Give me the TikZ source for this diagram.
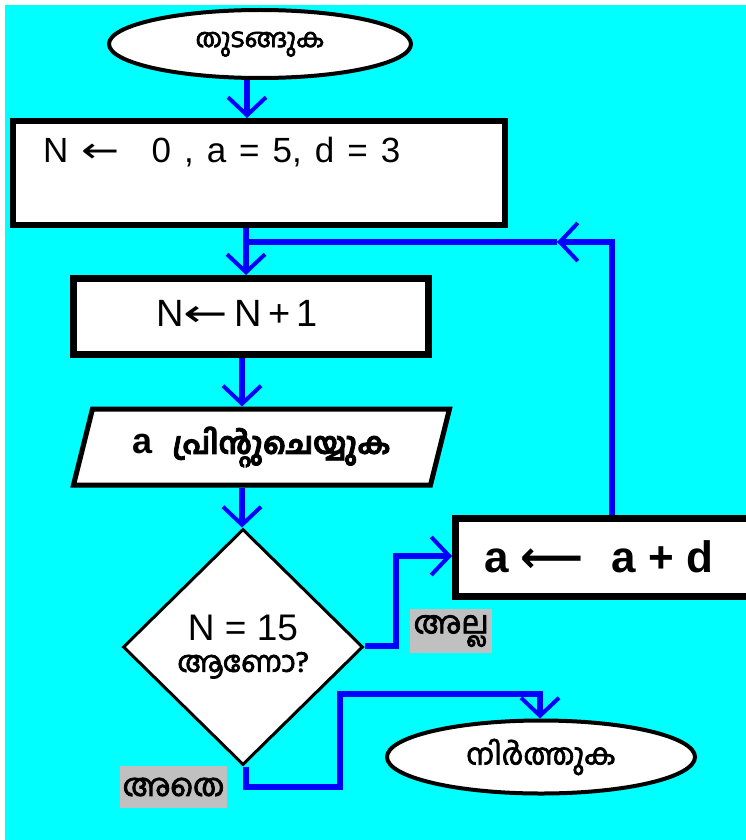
\documentclass[tikz,border=0pt]{standalone}
\usepackage{fontspec}
\usepackage{graphicx}
\setmainfont{Liberation Sans}
\newfontfamily\mlf[Script=Malayalam,FakeBold=2.5]{Hind Kochi}
\newfontfamily\symf{DejaVu Sans}
\newcommand\stretchedarrow[1]{\scalebox{#1}[1]{\symf ←}}
\usetikzlibrary{shapes.geometric,arrows.meta}
\definecolor{bgcyan}{RGB}{0,255,255}
\definecolor{lblgray}{RGB}{192,192,192}
\definecolor{lnblue}{RGB}{0,0,255}
\begin{document}
\begin{tikzpicture}[x=1pt,y=-1pt,
  box/.style={draw=black,fill=white,line width=6pt,rectangle,inner sep=0pt},
  oval/.style={draw=black,fill=white,line width=4pt,ellipse,inner sep=0pt},
  flow/.style={draw=lnblue,line width=6pt},
  tip/.style={-{Straight Barb[length=18pt,width=38pt,line width=4pt]}},
  lbl/.style={fill=lblgray,inner sep=0pt,font=\mlf\fontsize{31}{34}\selectfont}
]
\useasboundingbox (0,0) rectangle (746,840);
\fill[white] (0,0) rectangle (746,840);
\fill[bgcyan] (5,5) rectangle (746,840);

% nodes
\node[oval,minimum width=302pt,minimum height=68pt,font=\mlf\fontsize{26}{30}\selectfont] (start) at (260,44) {തുടങ്ങുക};
\node[box,minimum width=492pt,minimum height=104pt] (box1) at (259,173) {};
\node[anchor=west,inner sep=0pt,font=\fontsize{35}{38}\selectfont] (t1) at (43,152)
  {\spaceskip=13pt N \stretchedarrow{1.3}\hspace{32pt}0 , a = 5, d = 3};
\node[box,line width=7pt,minimum width=355pt,minimum height=76pt] (box2) at (251,316.5) {};
\node[inner sep=0pt,font=\fontsize{38}{40}\selectfont] (t2) at (237,313)
  {N\stretchedarrow{1.4}\,N\,+\,1};
\node[trapezium,trapezium left angle=65,trapezium right angle=115,trapezium stretches body,
  draw=black,fill=white,line width=5pt,inner sep=0pt,minimum width=376pt,minimum height=76pt]
  (para) at (261.5,447) {\fontsize{36}{40}\selectfont\bfseries a\hspace{20pt}{\mlf\fontsize{30}{34}\selectfont പ്രിന്റുചെയ്യുക}};
\node[diamond,draw=black,fill=white,line width=3pt,inner sep=0pt,minimum width=240pt,
  minimum height=236pt,align=center,font=\fontsize{37}{31}\selectfont] (dec) at (243,647)
  {N = 15\\{\mlf\fontsize{29}{31}\selectfont ആണോ?}};
\node[box,line width=7pt,minimum width=299pt,minimum height=78pt] (box3) at (605,557.5) {};
\node[anchor=west,inner sep=0pt,font=\fontsize{44}{48}\selectfont\bfseries] (t3) at (484,557)
  {a {\symf ⟵}\hspace{28pt}a + d};
\node[oval,minimum width=308pt,minimum height=73pt,font=\mlf\fontsize{29}{32}\selectfont] (stop) at (541,757) {നിർത്തുക};
\node[lbl,minimum width=82pt,minimum height=44pt] (no) at (451,631) {അല്ല};
\node[lbl,minimum width=107pt,minimum height=42pt] (yes) at (173.5,787) {അതെ};

% helper coordinates
\coordinate (c1) at (247,0);
\coordinate (c2) at (246,0);
\coordinate (c3) at (242,0);
\coordinate (n1) at (396,646);
\coordinate (n2) at (396,556);
\coordinate (l1) at (612,242);
\coordinate (l2) at (557,242);
\coordinate (l3) at (243,242);
\coordinate (y1) at (246,787);
\coordinate (y2) at (340,787);
\coordinate (y3) at (340,694);
\coordinate (y4) at (540,694);

% connectors
\draw[flow,tip] (start.south -| c1) -- (box1.north -| c1);
\draw[flow,tip] (box1.south -| c2) -- (box2.north -| c2);
\draw[flow,tip] (box2.south -| c3) -- (para.north -| c3);
\draw[flow,tip] (para.south -| c3) -- (dec.north -| c3);
\draw[flow,tip] (dec.east |- n1) -- (n1) -- (n2) -- (box3.west |- n2);
\draw[flow,tip] (box3.north -| l1) -- (l1) -- (l2);
\draw[flow] (l2) -- (l3);
\draw[flow,tip] (dec.south -| y1) -- (y1) -- (y2) -- (y3) -- (y4) -- (stop.north -| y4);
\end{tikzpicture}
\end{document}
